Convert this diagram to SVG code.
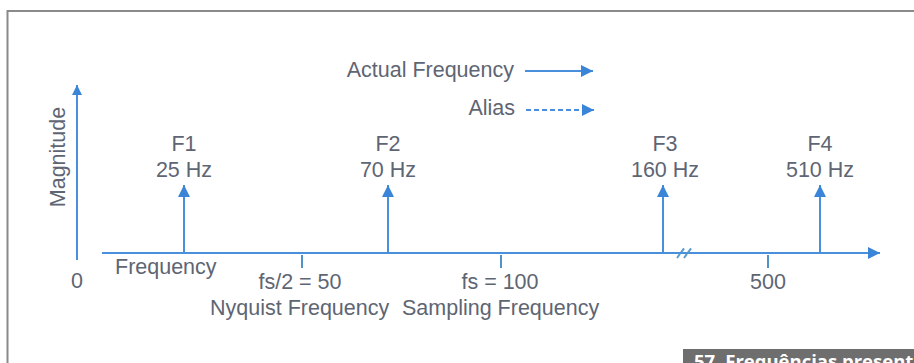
<svg xmlns="http://www.w3.org/2000/svg" width="914" height="363" viewBox="0 0 914 363">
  <style>
    .t { font-family: "Liberation Sans", Arial, sans-serif; font-size: 21.5px; fill: #5e6573; }
    .mid { text-anchor: middle; }
    .end { text-anchor: end; }
    .ax { stroke: #4a8fdb; stroke-width: 2; fill: none; }
    .tick { stroke: #4f93c9; stroke-width: 2; }
  </style>
  <defs>
    <marker id="head" viewBox="0 0 12 12" refX="12" refY="6" markerWidth="12" markerHeight="12" markerUnits="userSpaceOnUse" orient="auto">
      <path d="M0,0 L12,6 L0,12 Z" fill="#3a85d8"/>
    </marker>
    <marker id="headS" viewBox="0 0 12 12" refX="12" refY="6" markerWidth="10" markerHeight="10" markerUnits="userSpaceOnUse" orient="auto">
      <path d="M0,0 L12,6 L0,12 Z" fill="#3a85d8"/>
    </marker>
  </defs>

  <rect width="914" height="363" fill="#ffffff"/>

  <!-- page frame -->
  <path d="M7.5,363 V11 H914" stroke="#8a8a8a" stroke-width="2" fill="none"/>

  <!-- legend -->
  <g id="legend">
    <text class="t end" x="514" y="77">Actual Frequency</text>
    <line class="ax" x1="525" y1="71" x2="593" y2="71" marker-end="url(#head)"/>
    <text class="t end" x="515" y="115">Alias</text>
    <line class="ax" x1="526" y1="110" x2="594" y2="110" stroke-dasharray="5 3" marker-end="url(#head)"/>
  </g>

  <!-- axes -->
  <g id="axes">
    <line class="ax" x1="77" y1="260" x2="77" y2="85" marker-end="url(#headS)"/>
    <line class="ax" x1="102" y1="253" x2="880" y2="253" marker-end="url(#head)"/>
    <text class="t mid" transform="translate(65,157) rotate(-90)">Magnitude</text>
    <text class="t mid" x="77" y="288">0</text>
    <text class="t" x="115" y="274">Frequency</text>
    <!-- axis break -->
    <line x1="677" y1="258" x2="685" y2="247" stroke="#5a9ccc" stroke-width="2" stroke-dasharray="5 2"/>
    <line x1="684" y1="258" x2="692" y2="247" stroke="#5a9ccc" stroke-width="2" stroke-dasharray="5 2"/>
  </g>

  <!-- ticks -->
  <g id="tick-nyquist">
    <line class="tick" x1="302" y1="255" x2="302" y2="268"/>
    <text class="t mid" x="300" y="289">fs/2 = 50</text>
    <text class="t" x="210" y="315">Nyquist Frequency</text>
  </g>
  <g id="tick-fs">
    <line class="tick" x1="501" y1="255" x2="501" y2="268"/>
    <text class="t mid" x="500" y="289">fs = 100</text>
    <text class="t" x="402" y="315">Sampling Frequency</text>
  </g>
  <g id="tick-500">
    <line class="tick" x1="768" y1="255" x2="768" y2="268"/>
    <text class="t mid" x="768" y="289">500</text>
  </g>

  <!-- frequency components -->
  <g id="f1">
    <line class="ax" x1="184" y1="253" x2="184" y2="185" marker-end="url(#head)"/>
    <text class="t mid" x="184" y="151">F1</text>
    <text class="t mid" x="184" y="177">25 Hz</text>
  </g>
  <g id="f2">
    <line class="ax" x1="388" y1="253" x2="388" y2="185" marker-end="url(#head)"/>
    <text class="t mid" x="388" y="151">F2</text>
    <text class="t mid" x="388" y="177">70 Hz</text>
  </g>
  <g id="f3">
    <line class="ax" x1="663" y1="253" x2="663" y2="185" marker-end="url(#head)"/>
    <text class="t mid" x="665" y="151">F3</text>
    <text class="t mid" x="665" y="177">160 Hz</text>
  </g>
  <g id="f4">
    <line class="ax" x1="820" y1="253" x2="820" y2="185" marker-end="url(#head)"/>
    <text class="t mid" x="820" y="151">F4</text>
    <text class="t mid" x="820" y="177">510 Hz</text>
  </g>

  <!-- caption bar, running off the bottom edge -->
  <g id="caption">
    <rect x="683" y="349" width="240" height="20" fill="#6e6e6e"/>
    <text x="694" y="368" font-family="'Open Sans', 'Noto Sans', sans-serif" font-weight="bold" font-size="18.5" fill="#ffffff">57. Frequências present</text>
  </g>
</svg>
